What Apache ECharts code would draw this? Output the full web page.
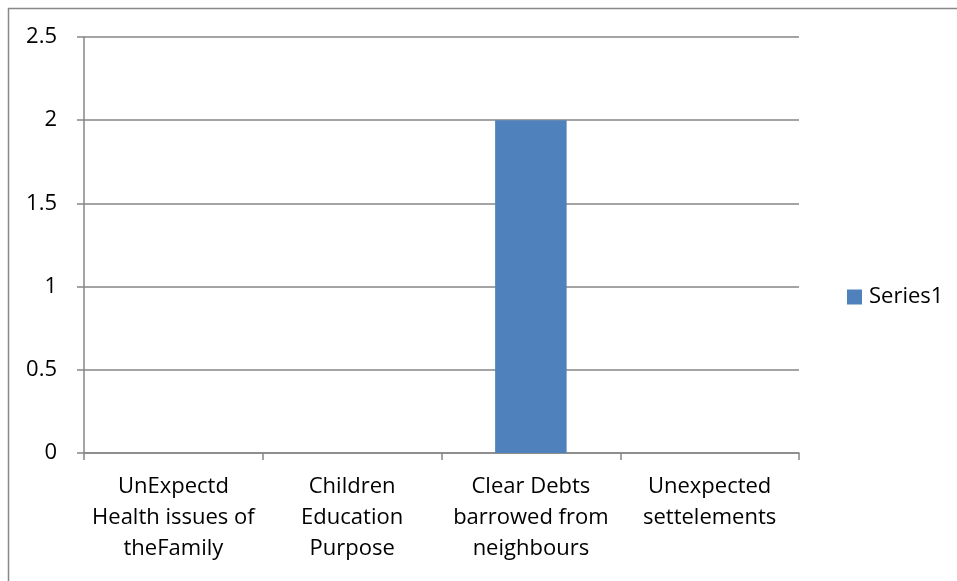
<!DOCTYPE html>
<html>
<head>
<meta charset="utf-8">
<script src="https://cdn.jsdelivr.net/npm/echarts@6/dist/echarts.min.js"></script>
<style>
html,body{margin:0;padding:0;background:#fff;}
#c{width:957px;height:581px;}
</style>
</head>
<body>
<div id="c"></div>
<script>
var categories = ["UnExpectd\nHealth issues of\ntheFamily", "Children\nEducation\nPurpose", "Clear Debts\nbarrowed from\nneighbours", "Unexpected\nsettelements"];
var series1 = [0, 0, 2, 0];
var yTicks = [0, 0.5, 1, 1.5, 2, 2.5];

var font = "Open Sans";
var chart = echarts.init(document.getElementById('c'), null, {renderer: 'canvas'});
chart.setOption({
  animation: false,
  backgroundColor: '#fff',
  graphic: [{
    type: 'rect', shape: {x: 8.5, y: 8.5, width: 1000, height: 1000},
    style: {fill: 'none', stroke: '#888', lineWidth: 1.5}, silent: true
  }],
  grid: {left: 84, top: 37, width: 715, height: 416, containLabel: false},
  legend: {
    data: ['Series1'], orient: 'vertical', left: 842, top: 281,
    itemWidth: 15, itemHeight: 15, itemGap: 6, icon: 'rect',
    textStyle: {fontFamily: font, fontSize: 22, color: '#000', padding: [0, 0, 0, 2]}
  },
  xAxis: {
    type: 'category', data: categories,
    axisLine: {lineStyle: {color: '#868686', width: 1.5}},
    axisTick: {show: true, length: 7, alignWithLabel: false, lineStyle: {color: '#868686', width: 1.5}},
    axisLabel: {fontFamily: font, fontSize: 22, color: '#000', lineHeight: 31, margin: 18, interval: 0}
  },
  yAxis: {
    type: 'value', min: yTicks[0], max: yTicks[yTicks.length - 1], interval: 0.5,
    axisLine: {show: true, lineStyle: {color: '#868686', width: 1.5}},
    axisTick: {show: true, length: 7, lineStyle: {color: '#868686', width: 1.5}},
    splitLine: {lineStyle: {color: '#868686', width: 1.5}},
    axisLabel: {fontFamily: font, fontSize: 22, color: '#000', margin: 27}
  },
  series: [{
    name: 'Series1', type: 'bar', data: series1, barWidth: '40%',
    itemStyle: {color: '#4f81bd'}
  }]
});
</script>
</body>
</html>
